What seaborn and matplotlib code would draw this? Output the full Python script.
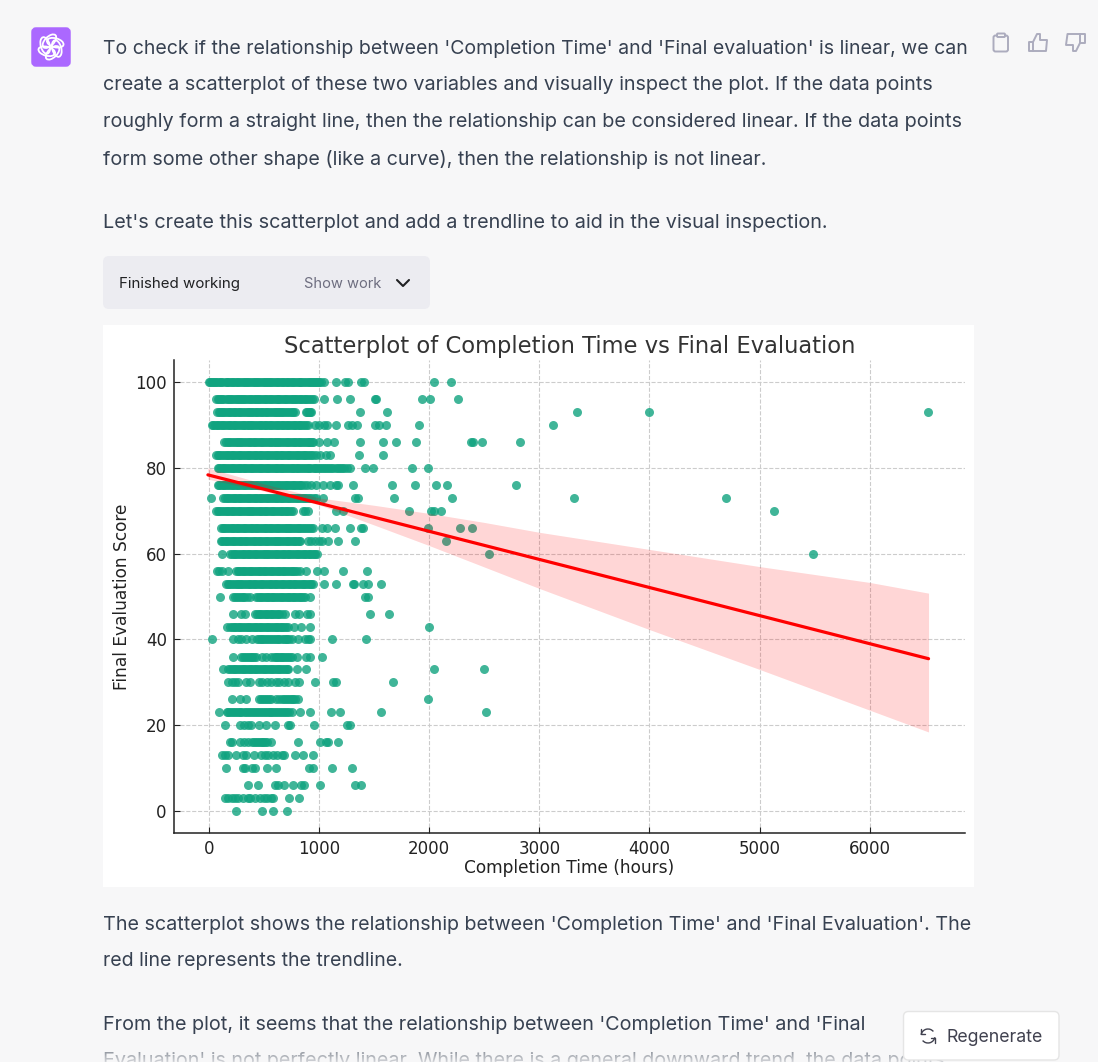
import numpy as np
import pandas as pd
import seaborn as sns
import matplotlib.pyplot as plt
from matplotlib.patches import FancyBboxPatch, Ellipse, Arc, Polygon, Rectangle

# points, one list per score level
hours_100 = [0,25,50,85,110,150,175,205,240,265,300,330,355,390,420,445,480,510,540,565,600,630,660,690,720,750,780,815,840,875,905,935,960,990,1015,1040,1150,1235,1265,1385,1405,2040,2195,
             12,38,68,97,130,162,190,222,252,282,315,342,372,405,432,462,495,525,552,582,615,645,675,705,735,765,797,827,857,890,920,947,975,1002]
hours_96 = [65,95,120,160,190,215,250,280,310,335,370,400,430,455,490,520,550,580,615,640,675,700,735,765,790,825,855,885,915,950,1040,1160,1280,1510,1520,1930,2010,2265,
            80,107,140,175,202,232,265,295,322,352,385,415,442,472,505,535,565,597,627,657,687,717,750,777,807,840,870,900,932]
hours_93 = [75,100,130,165,195,225,255,285,320,350,380,410,440,470,500,530,565,595,625,650,685,715,750,785,880,905,930,1370,1620,3340,3995,6530,
            87,115,147,180,210,240,270,302,335,365,395,425,455,485,515,547,580,610,637,667,700,732,767,893,917]
hours_90 = [25,55,85,115,145,180,210,240,270,305,335,365,395,425,460,490,520,550,580,615,645,675,705,735,770,800,830,860,900,960,1000,1040,1070,1150,1265,1295,1345,1505,1545,1610,1910,3120,
            40,70,100,130,162,195,225,255,287,320,350,380,410,442,475,505,535,565,597,630,660,690,720,752,785,815,845,880]
hours_86 = [140,170,200,235,265,295,330,360,390,420,455,485,515,550,580,610,640,675,705,735,770,800,830,860,895,920,945,1000,1070,1135,1370,1580,1700,1880,2380,2400,2480,2820,
            155,185,217,250,280,312,345,375,405,437,470,500,532,565,595,625,657,690,720,752,785,815,845,877,907,932]
hours_83 = [65,95,125,160,190,220,255,285,320,350,380,415,445,475,510,540,570,605,635,665,700,730,760,795,825,860,890,925,970,1010,1060,1095,1365,1580,
            80,110,142,175,205,237,270,302,335,365,397,430,460,492,525,555,587,620,650,682,715,745,777,810,842,875,907,947]
hours_80 = [80,110,140,175,205,235,270,300,330,365,395,430,460,490,525,555,590,620,650,685,715,750,780,810,845,880,910,950,985,1020,1050,1090,1125,1150,1190,1230,1280,1415,1490,1840,1990,
            95,125,157,190,220,252,285,315,347,380,412,445,475,507,540,572,605,635,667,700,732,765,795,827,862,895,930,967,1002,1035,1070,1107,1170,1210,1255]
hours_76 = [80,110,140,170,205,235,265,300,330,360,395,425,455,490,520,550,585,615,645,680,710,745,775,805,840,890,975,1035,1100,1150,1175,1310,1660,1870,2060,2160,2790,
            95,125,155,187,220,250,282,315,345,377,410,440,472,505,535,567,600,630,662,695,727,760,790,822,865,930]
hours_73 = [20,130,160,190,225,255,285,320,350,380,415,445,475,510,540,570,605,635,665,700,730,765,795,830,860,890,930,970,1035,1330,1350,1680,2210,3315,4695,
            145,175,207,240,270,302,335,365,397,430,460,492,525,555,587,620,650,682,715,747,780,812,845,875,910,950]
hours_70 = [65,95,125,160,190,220,255,285,315,350,380,410,445,475,505,540,570,600,635,665,695,730,765,850,875,900,1150,1220,1820,2020,2040,2110,5130,
            80,110,142,175,205,237,270,300,332,365,395,427,460,490,522,555,585,617,650,680,712,747]
hours_66 = [110,140,170,205,235,265,300,330,360,395,425,455,490,520,550,585,615,645,680,710,740,775,805,835,870,905,945,1030,1070,1140,1280,1385,1400,1990,2280,2390,
            125,155,187,220,250,282,315,345,377,410,440,472,505,535,567,600,630,662,695,725,757,790,820,852,887,925]
hours_63 = [105,135,165,200,230,260,295,325,355,390,420,450,485,515,545,580,610,640,675,705,735,770,800,830,900,960,1030,1080,1170,1325,2150,
            120,150,182,215,245,277,310,340,372,405,435,467,500,530,562,595,625,657,690,720,752,785,815,930,995]
hours_60 = [120,195,225,255,290,320,350,385,415,445,480,510,540,575,605,635,670,700,730,765,795,825,860,890,920,950,985,2540,5490,
            210,240,272,305,335,367,400,430,462,495,525,557,590,620,652,685,715,747,780,810,842,875,905,935,967]
hours_56 = [75,115,175,245,275,305,340,370,400,435,465,495,530,560,590,625,655,685,720,750,780,825,885,985,1040,1220,1435,
            90,260,290,322,355,385,417,450,480,512,545,575,607,640,670,702,735,765,802]
hours_53 = [155,185,215,250,280,310,345,375,405,440,470,500,535,565,595,630,660,690,725,755,785,820,850,885,915,945,1045,1150,1310,1320,1400,1445,1560,
            170,200,232,265,295,327,360,390,422,455,485,517,550,580,612,645,675,707,740,770,802,835,867,900,930]
hours_50 = [100,220,250,290,320,370,430,460,490,525,555,585,620,650,680,715,745,775,810,840,870,920,1415,1445,
            235,270,305,345,445,475,507,540,570,602,635,665,697,730,760,792,825,855]
hours_46 = [220,295,325,420,450,480,515,545,575,610,640,690,780,815,890,920,1460,1635,
            435,465,497,530,560,592,625,665]
hours_43 = [160,190,225,255,285,320,350,380,415,445,475,510,540,570,605,635,665,700,720,775,835,915,2000,
            207,240,270,302,335,365,397,430,460,492,525,555,587,620,650,682]
hours_40 = [30,215,260,290,340,390,440,470,500,540,570,610,640,680,710,750,810,870,895,920,1120,1430,
            455,485,520,555,590,625,660,695,730]
hours_36 = [220,295,330,360,395,430,480,520,560,590,620,650,685,720,750,795,885,915,1025,
            312,345,377,412,605,635,667,702,735]
hours_33 = [125,175,210,240,275,305,335,370,400,430,465,495,525,560,590,625,655,690,720,795,885,2040,2495,
            192,225,257,290,320,352,385,415,447,480,510,542,575,607,640,672,705]
hours_30 = [175,205,240,265,340,370,450,485,530,565,610,640,680,715,780,820,965,1125,1150,1670]
hours_26 = [210,280,335,455,490,525,560,610,635,680,715,750,785,810,1990,
            472,507,542,660,697,732,767]
hours_23 = [90,160,190,225,260,295,335,375,410,445,480,515,550,585,620,655,690,725,750,825,920,1110,1190,1560,2515,
            175,207,242,277,315,355,392,427,462,497,532,567,602,637,672,707]
hours_20 = [145,285,320,350,385,455,520,600,720,735,950,1250,1280]
hours_16 = [195,205,280,320,350,390,430,465,490,525,560,805,1005,1065,1080,1170,
            410,447,477,507]
hours_13 = [115,145,175,245,310,340,410,470,505,540,580,615,660,680,780,850,945]
hours_10 = [150,310,330,395,415,525,605,910,945,1120,1300]
hours_6 = [350,445,600,630,680,765,835,860,1010,1330,1385]
hours_3 = [145,175,205,235,265,310,355,370,415,460,495,530,560,585,725,820]
hours_0 = [245,485,585,705]

score_levels = [100,96,93,90,86,83,80,76,73,70,66,63,60,56,53,50,46,43,40,36,33,30,26,23,20,16,13,10,6,3,0]
hours_rows = [hours_100,hours_96,hours_93,hours_90,hours_86,hours_83,hours_80,hours_76,hours_73,hours_70,
              hours_66,hours_63,hours_60,hours_56,hours_53,hours_50,hours_46,hours_43,hours_40,hours_36,
              hours_33,hours_30,hours_26,hours_23,hours_20,hours_16,hours_13,hours_10,hours_6,hours_3,hours_0]

# trendline and its confidence band, also
trend_x = [-10,6535]
trend_y = [78.4,35.5]
band_x = [-10,500,1000,1500,2000,2500,3000,4000,5000,6000,6535]
band_high = [80,76.3,73,71.3,69.4,67.3,65,61,57,53.3,50.8]
band_low = [77.4,74.6,71.4,66.7,61.9,56.9,51.9,42.3,33,23.5,18.4]

x_ticks = [0,1000,2000,3000,4000,5000,6000]
y_ticks = [0,20,40,60,80,100]

page_lines = ["To check if the relationship between 'Completion Time' and 'Final evaluation' is linear, we can",
              "create a scatterplot of these two variables and visually inspect the plot. If the data points",
              "roughly form a straight line, then the relationship can be considered linear. If the data points",
              "form some other shape (like a curve), then the relationship is not linear.",
              "Let's create this scatterplot and add a trendline to aid in the visual inspection.",
              "The scatterplot shows the relationship between 'Completion Time' and 'Final Evaluation'. The",
              "red line represents the trendline.",
              "From the plot, it seems that the relationship between 'Completion Time' and 'Final",
              "Evaluation' is not perfectly linear. While there is a general downward trend, the data points"]
page_y = [48.5,85,122,159.5,223.5,924.5,961.5,1025.5,1061]
page_sizes = [14.04,14.25,14.26,14.19,14.28,14.19,14.04,14.24,14.2]

df = pd.concat([pd.DataFrame({'hours':h,'score':s}) for h,s in zip(hours_rows,score_levels)])

sns.set_theme(style='white')
plt.rcParams['font.family'] = ['DejaVu Sans']
W,H = 1098,1062
PAGE = '#f7f7f8'
BODY = '#374151'
fig = plt.figure(figsize=(W/100,H/100),dpi=100,facecolor=PAGE)

# page layer in pixel coordinates
page = fig.add_axes([0,0,1,1],zorder=0)
page.set_xlim(0,W)
page.set_ylim(H,0)
page.axis('off')

page.add_patch(Rectangle((103,325),871,562,fc='white',ec='none'))
for line,y,size in zip(page_lines,page_y,page_sizes):
    page.text(103,y,line,family='Inter',fontsize=size,color=BODY,va='center')

# fade at the bottom of the page
fade = np.zeros((26,1,4))
fade[:,:,:3] = np.array([247,247,248])/255
fade[:,0,3] = np.linspace(0,0.8,26)
page.imshow(fade,extent=(0,W,1062,1036),aspect='auto',zorder=5)
page.set_xlim(0,W)
page.set_ylim(H,0)

# avatar
page.add_patch(FancyBboxPatch((33,29),36,36,boxstyle='round,pad=0,rounding_size=3',mutation_scale=1,fc='#ab68ff',ec='#ab68ff',lw=2.5))
for k in range(6):
    a = np.deg2rad(k*60+15)
    page.add_patch(Ellipse((51+6*np.cos(a),47+6*np.sin(a)),17,9,angle=k*60+75,fc='none',ec='white',lw=1.3))

# action icons
ICON = '#acacbe'
page.add_patch(FancyBboxPatch((993.5,35.5),14.5,16,boxstyle='round,pad=0,rounding_size=2',mutation_scale=1,fc='none',ec=ICON,lw=1.4))
page.add_patch(FancyBboxPatch((997,33.5),8,3.5,boxstyle='round,pad=0,rounding_size=1',mutation_scale=1,fc=PAGE,ec=ICON,lw=1.4))
page.add_patch(Polygon([(1029,42),(1033,42),(1037,34),(1040,34),(1040,40),(1047,40),(1046,51),(1029,51)],closed=True,fc='none',ec=ICON,lw=1.4,joinstyle='round'))
page.plot([1033,1033],[42,51],color=ICON,lw=1.4)
page.add_patch(Polygon([(1085,34),(1085,43),(1080,43),(1076,51),(1073,51),(1073,45),(1066,45),(1067.5,34)],closed=True,fc='none',ec=ICON,lw=1.4,joinstyle='round'))
page.plot([1080,1080],[34,43],color=ICON,lw=1.4)

# finished working bar
page.add_patch(FancyBboxPatch((103,256),327,53,boxstyle='round,pad=0,rounding_size=6',mutation_scale=1,fc='#ececf1',ec='none'))
page.text(119,284,'Finished working',family='Inter',fontsize=10.85,color='#202123',va='center')
page.text(304,284,'Show work',family='Inter',fontsize=10.6,color='#6e6e80',va='center')
page.plot([397,403,409],[280,286,280],color='#202123',lw=1.5)

# regenerate button
page.add_patch(FancyBboxPatch((903.5,1011.5),155.5,48.5,boxstyle='round,pad=0,rounding_size=5',mutation_scale=1,fc='white',ec='#e5e5e5',lw=1,zorder=6))
page.text(947,1037,'Regenerate',family='Inter',fontsize=12.8,color='#40414f',va='center',zorder=7)
page.add_patch(Arc((928,1036),14,14,theta1=190,theta2=320,ec='#40414f',lw=1,zorder=7))
page.add_patch(Arc((928,1036),14,14,theta1=10,theta2=140,ec='#40414f',lw=1,zorder=7))
page.plot([921,921,925],[1029,1034,1034],color='#40414f',lw=1,zorder=7)
page.plot([935,935,931],[1043,1038,1038],color='#40414f',lw=1,zorder=7)

# chart
ax = fig.add_axes([173.7/W,1-832.7/H,(965-173.7)/W,(832.7-360)/H],zorder=1)
ax.set_facecolor('none')
sns.scatterplot(data=df,x='hours',y='score',color='#10a37f',alpha=0.8,s=42,linewidth=0,ax=ax,zorder=2)
ax.fill_between(band_x,band_low,band_high,color='red',alpha=0.16,lw=0,zorder=3)
sns.lineplot(x=trend_x,y=trend_y,color='red',lw=2.3,errorbar=None,ax=ax,zorder=4)

ax.set_xlim(-320.6,6866)
ax.set_ylim(-5.1,105.2)
ax.set_xticks(x_ticks)
ax.set_yticks(y_ticks)
ax.grid(True,ls='--',color='#cccccc',lw=0.8)
ax.set_axisbelow(True)
sns.despine(ax=ax)
for s in ['left','bottom']:
    ax.spines[s].set_color('#222222')
    ax.spines[s].set_linewidth(1.1)
ax.tick_params(direction='in',length=4,width=0.8,color='#222222',labelsize=12,labelcolor='#222222',bottom=True,left=True,pad=5)
ax.set_xlabel('Completion Time (hours)',fontsize=12.25,color='#222222',labelpad=1)
ax.set_ylabel('Final Evaluation Score',fontsize=12.25,color='#222222',labelpad=3)
ax.set_title('Scatterplot of Completion Time vs Final Evaluation',fontsize=16.3,color='#333333',pad=5)

fig.savefig('out.png',dpi=100,facecolor=PAGE)
